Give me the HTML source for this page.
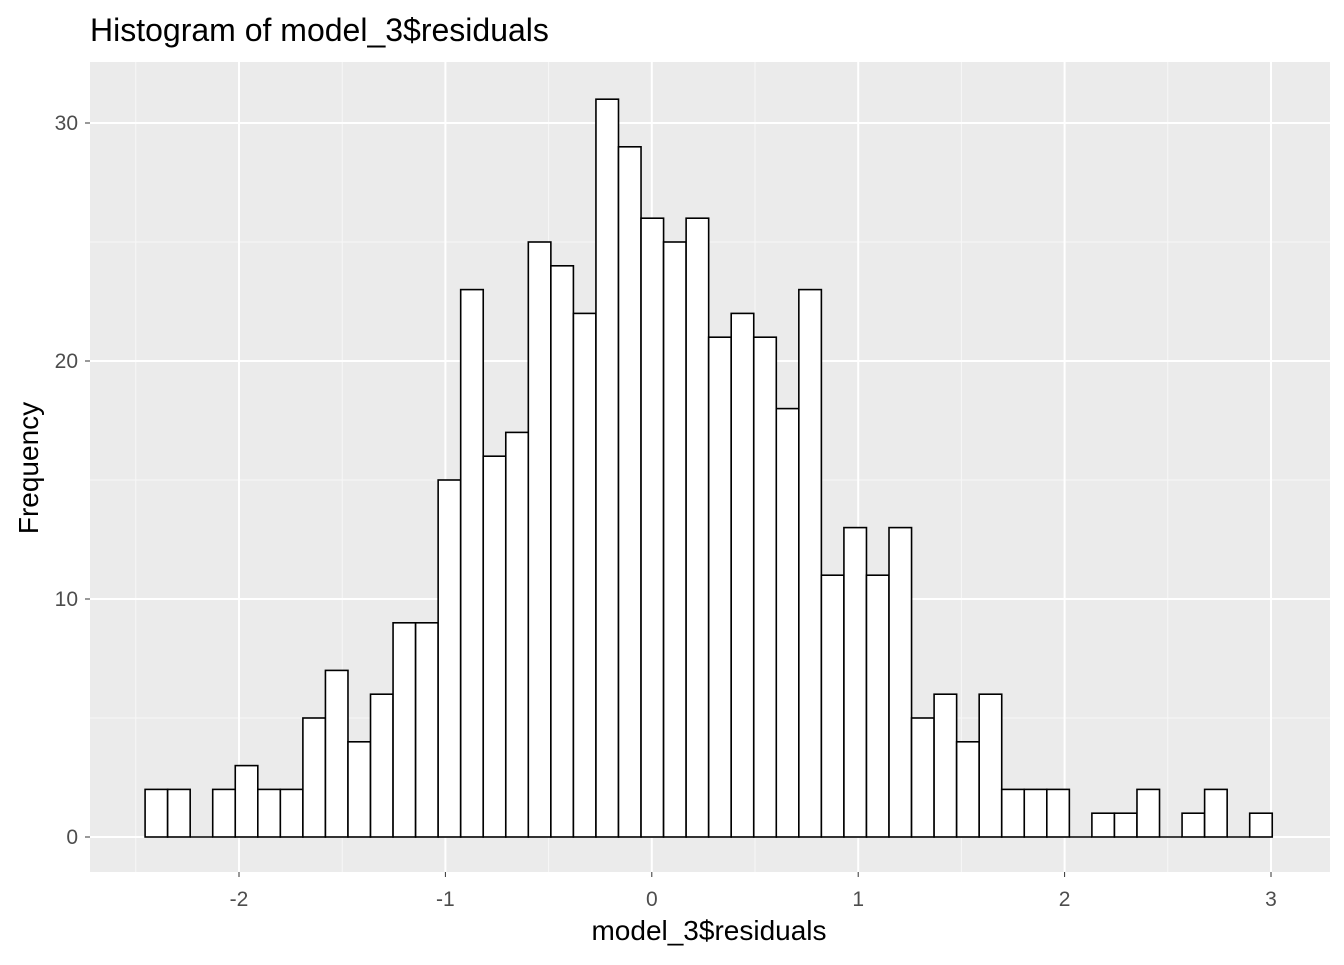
<!DOCTYPE html>
<html><head><meta charset="utf-8"><style>
body{margin:0;background:#fff;}
svg text{font-family:"Liberation Sans",Arial,sans-serif;}
</style></head><body>
<svg id="chart" width="1344" height="960" xmlns="http://www.w3.org/2000/svg">
<text x="90" y="41" font-size="32" fill="#000">Histogram of model_3$residuals</text>
<rect x="90" y="62" width="1240" height="810" fill="#ebebeb"/>
<g id="grid"></g><g id="bars"></g><g id="axes"></g>
<text x="709" y="940" font-size="28" text-anchor="middle" fill="#000">model_3$residuals</text>
<text transform="translate(38,468) rotate(-90)" font-size="28" text-anchor="middle" fill="#000">Frequency</text>
</svg>
<script>
const counts=[2,2,0,2,3,2,2,5,7,4,6,9,9,15,23,16,17,25,24,22,31,29,26,25,26,21,22,21,18,23,11,13,11,13,5,6,4,6,2,2,2,0,1,1,2,0,1,2,0,1];
const binStart=-2.455, binWidth=0.10922;
const xTicks=[-2,-1,0,1,2,3];
const yTicks=[0,10,20,30];
const yMinor=[5,15,25];
const NS="http://www.w3.org/2000/svg";
const xs=v=>651.8+v*206.4;
const ys=v=>837-v*23.8;
function mk(tag,attrs,parent){const e=document.createElementNS(NS,tag);for(const k in attrs)e.setAttribute(k,attrs[k]);document.getElementById(parent).appendChild(e);return e;}
const grid='grid';
for(let i=0;i<xTicks.length;i++){
 const t=xTicks[i];
 const m=mk('line',{x1:xs(t-0.5),x2:xs(t-0.5),y1:62,y2:872,stroke:'#f7f7f7','stroke-width':1},grid);
 
 
}
for(const t of yMinor){
 const m=mk('line',{x1:90,x2:1330,y1:ys(t),y2:ys(t),stroke:'#f7f7f7'},grid);
 
 
}
for(const t of xTicks){
 const g=mk('line',{x1:xs(t),x2:xs(t),y1:62,y2:872,stroke:'#fff','stroke-width':2},grid);
 
 
 const k=mk('line',{x1:xs(t),x2:xs(t),y1:872,y2:877,stroke:'#333'},'axes');
 
 
 const l=mk('text',{x:xs(t),y:906,'font-size':21,fill:'#4d4d4d','text-anchor':'middle'},'axes');
 l.textContent=String(t);
 
 
}
for(const t of yTicks){
 const g=mk('line',{x1:90,x2:1330,y1:ys(t),y2:ys(t),stroke:'#fff','stroke-width':2},grid);
 
 
 const k=mk('line',{x1:85,x2:90,y1:ys(t),y2:ys(t),stroke:'#333'},'axes');
 
 
 const l=mk('text',{x:78,y:ys(t)+7,'font-size':21,fill:'#4d4d4d','text-anchor':'end'},'axes');
 l.textContent=String(t);
 
 
}
counts.forEach((c,i)=>{
 const x0=xs(binStart+i*binWidth), x1=xs(binStart+(i+1)*binWidth);
 if(c===0){
  const z=mk('line',{x1:x0,x2:x1,y1:ys(0),y2:ys(0),stroke:'#000','stroke-width':1.6},'bars');
  
  
  return;
 }
 const r=mk('rect',{x:x0,y:ys(c),width:x1-x0,height:ys(0)-ys(c),fill:'#fff',stroke:'#000','stroke-width':1.6},'bars');
 
 
});
</script>
</body></html>
